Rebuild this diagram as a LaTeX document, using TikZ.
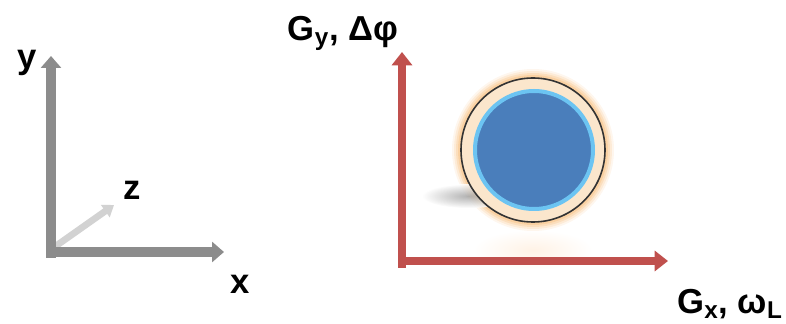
\documentclass[tikz,border=0pt]{standalone}
\usepackage{fontspec}
\setmainfont{Liberation Sans}
\usepackage{xcolor}
\usetikzlibrary{arrows.meta,positioning,calc}
\definecolor{axisgray}{HTML}{8C8C8C}
\definecolor{axisred}{HTML}{C0504D}
\definecolor{diskblue}{HTML}{4A7EBB}
\definecolor{ringblue}{HTML}{6CC4F2}
\definecolor{ringbeige}{HTML}{FBE6CC}
\definecolor{glow}{HTML}{F7B870}
\tikzset{
  axislabel/.style={font=\bfseries\fontsize{26}{31}\selectfont, inner sep=0pt},
  grayaxis/.style={draw=axisgray, line width=7pt, -{Triangle[width=15pt,length=9pt]}},
  redaxis/.style={draw=axisred, line width=6pt, -{Triangle[width=15pt,length=10pt]}}
}

\begin{document}
\begin{tikzpicture}[x=0.75pt, y=-0.75pt]
\useasboundingbox (0,0) rectangle (786,324);
% left frame
\coordinate (o1) at (51,258);
\coordinate (c1) at (46,252);
\coordinate (ytip) at (51,56);
\coordinate (xtip) at (224,252);
\coordinate (ztip) at (114,205);
\draw[draw=gray!35, line width=5pt, -{Triangle[width=11pt,length=8pt]}] (53,248) -- (ztip);
\draw[grayaxis] (o1) -- (ytip);
\draw[grayaxis] (c1) -- (xtip);
\node[axislabel] (ylab) at (27,63) {y};
\node[axislabel] (zlab) at (132,190) {z};
\node[axislabel] (xlab) at (240,284) {x};
% right frame
\coordinate (o2) at (402,268);
\coordinate (c2) at (398,261);
\coordinate (gytip) at (402,52);
\coordinate (gxtip) at (668,261);
\shade[inner color=orange!10, outer color=white] (533,250) ellipse (60 and 20);
\foreach \r/\o in {81/0.12, 79/0.18, 77/0.25, 75/0.35}
  \fill[glow, opacity=\o] (533,150) circle (\r);
\shade[inner color=gray!75, outer color=white, opacity=0.8] (468,196) ellipse (46 and 12);
\node[circle, fill=ringbeige, draw=black!80, line width=1.2pt, minimum size=144*0.75pt] (disk) at (533,150) {};
\node[circle, fill=diskblue, draw=ringblue, line width=3pt, minimum size=118*0.75pt] (core) at (534,150) {};
\draw[redaxis] (o2) -- (gytip);
\draw[redaxis] (c2) -- (gxtip);
\node[axislabel] (gylab) at (343,33) {G\textsubscript{y}, Δφ};
\node[axislabel] (gxlab) at (730,304) {G\textsubscript{x}, ω\textsubscript{L}};
\end{tikzpicture}
\end{document}
